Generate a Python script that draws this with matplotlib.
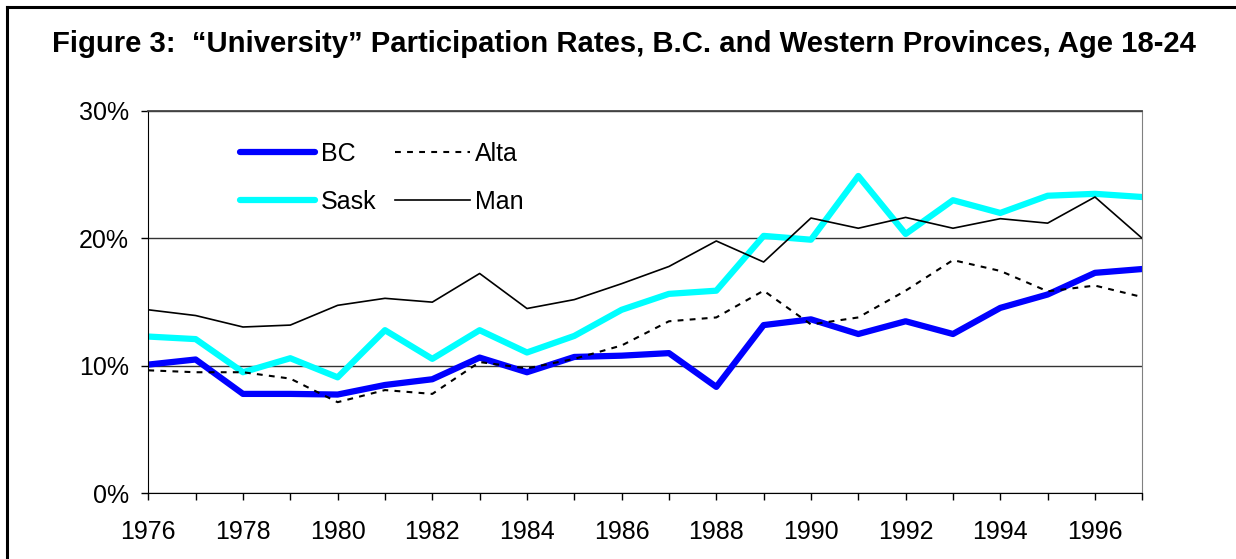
import matplotlib
matplotlib.use("Agg")
import matplotlib.pyplot as plt
from matplotlib.ticker import PercentFormatter, MultipleLocator
from matplotlib.lines import Line2D

plt.rcParams['font.family'] = ['Liberation Sans', 'DejaVu Sans']

years = list(range(1976, 1998))
bc = [10.1, 10.5, 7.8, 7.8, 7.75, 8.5, 8.95, 10.65, 9.5, 10.7, 10.8, 11.0, 8.35,
      13.2, 13.65, 12.5, 13.5, 12.5, 14.55, 15.6, 17.3, 17.6]
alta = [9.65, 9.5, 9.5, 9.0, 7.15, 8.1, 7.8, 10.3, 9.8, 10.55, 11.6, 13.5, 13.8,
        15.9, 13.25, 13.8, 15.9, 18.3, 17.45, 15.85, 16.3, 15.4]
sask = [12.3, 12.1, 9.5, 10.6, 9.1, 12.8, 10.55, 12.8, 11.05, 12.35, 14.4, 15.65,
        15.9, 20.2, 19.9, 24.9, 20.35, 23.0, 22.0, 23.35, 23.5, 23.25]
man = [14.4, 13.95, 13.05, 13.2, 14.75, 15.3, 15.0, 17.25, 14.5, 15.2, 16.45, 17.8,
       19.8, 18.15, 21.6, 20.8, 21.65, 20.8, 21.55, 21.2, 23.25, 20.0]
title = "Figure 3:  \u201cUniversity\u201d Participation Rates, B.C. and Western Provinces, Age 18-24"

W, H = 1236, 559
fig = plt.figure(figsize=(W / 100, H / 100), dpi=100)
ax = fig.add_axes([148.3 / W, 1 - 493.3 / H, 994 / W, 382.3 / H])

ax.plot(years, bc, color='#0000FF', lw=4.5, solid_capstyle='round', label='BC')
ax.plot(years, sask, color='#00FFFF', lw=4.5, solid_capstyle='round', label='Sask')
ax.plot(years, alta, color='black', lw=1.5, linestyle=(0, (2.8, 3.0)), label='Alta')
ax.plot(years, man, color='black', lw=1.2, label='Man')

ax.set_xlim(1976, 1997)
ax.set_ylim(0, 30)
ax.yaxis.set_major_locator(MultipleLocator(10))
ax.yaxis.set_major_formatter(PercentFormatter(decimals=0))
ax.set_xticks(years)
ax.set_xticklabels([str(y) if y % 2 == 0 else '' for y in years])
ax.tick_params(axis='both', direction='out', length=5, width=1, labelsize=18, colors='black')
ax.tick_params(axis='x', pad=14.5)
ax.tick_params(axis='y', pad=9)
ax.yaxis.grid(True, color='#333333', lw=1)
ax.set_axisbelow(True)
ax.spines['top'].set_color('#444444')
ax.spines['top'].set_linewidth(1.3)
ax.spines['right'].set_color('#808080')

ax.legend(ncol=2, frameon=False, fontsize=18, loc='upper left',
          bbox_to_anchor=(0.0923, 0.9185), borderpad=0, borderaxespad=0,
          handlelength=3.0, handletextpad=0.22, columnspacing=0.75, labelspacing=0.96)

fig.text(624 / W, 1 - 51.7 / H, title, ha='center', va='baseline',
         fontsize=21.1, fontweight='bold')

# outer frame: only left and top edges are inside the picture
fig.lines.append(Line2D([7 / W, 7 / W], [0, 1 - 7 / H], transform=fig.transFigure,
                        color='black', lw=2.2))
fig.lines.append(Line2D([7 / W, 1], [1 - 7 / H, 1 - 7 / H], transform=fig.transFigure,
                        color='black', lw=2.2))

fig.savefig('out.png', dpi=100)
